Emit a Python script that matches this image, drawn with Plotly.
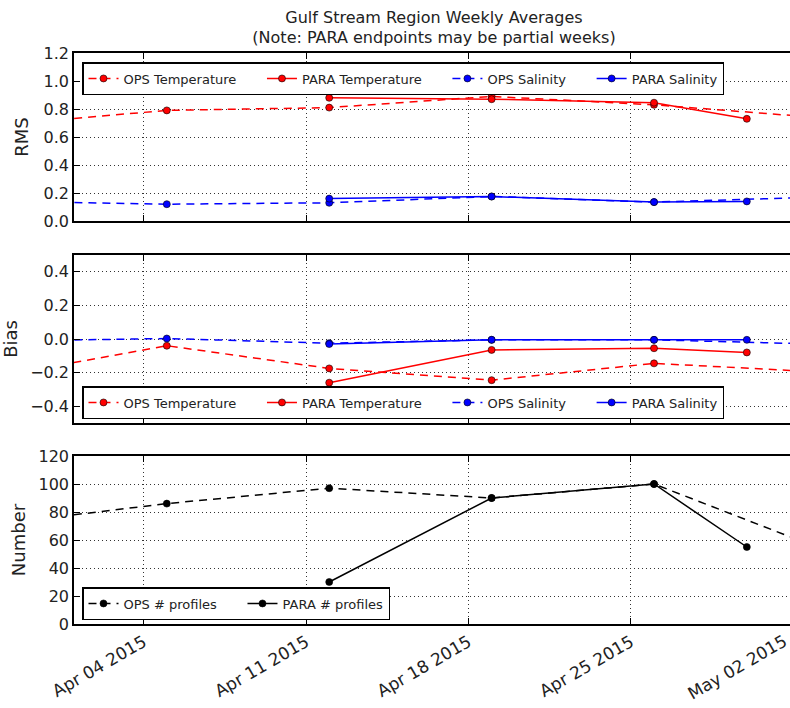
import datetime as dt
import plotly.graph_objects as go

# ---- data -------------------------------------------------------------
ops_dates = ["2015-03-29", "2015-04-05", "2015-04-12", "2015-04-19", "2015-04-26", "2015-05-03"]
para_dates = ["2015-04-12", "2015-04-19", "2015-04-26", "2015-04-30"]

rms_temp_ops = [0.69, 0.79, 0.81, 0.89, 0.83, 0.74]
rms_temp_para = [0.88, 0.87, 0.845, 0.73]
rms_sal_ops = [0.14, 0.12, 0.13, 0.175, 0.135, 0.17]
rms_sal_para = [0.16, 0.175, 0.135, 0.14]

bias_temp_ops = [-0.215, -0.04, -0.175, -0.245, -0.145, -0.195]
bias_temp_para = [-0.26, -0.065, -0.055, -0.08]
bias_sal_ops = [-0.012, 0.003, -0.025, -0.005, -0.005, -0.03]
bias_sal_para = [-0.03, -0.005, -0.005, -0.005]

num_ops = [72, 86, 97, 90, 100, 55]
num_para = [30, 90, 100, 55]

tick_dates = ["2015-04-04", "2015-04-11", "2015-04-18", "2015-04-25", "2015-05-02"]
tick_labels = ["Apr 04 2015", "Apr 11 2015", "Apr 18 2015", "Apr 25 2015", "May 02 2015"]

x_start = "2015-04-01 00:00"
x_end = "2015-05-01 20:40"

title_text = "Gulf Stream Region Weekly Averages<br>(Note: PARA endpoints may be partial weeks)"

# ---- styling ----------------------------------------------------------
FONT = "DejaVu Sans"
TXT = "#222222"
DASH = "8px,6px"
W, H = 790, 708
M_L, M_R, M_T, M_B = 74, 0, 53, 84
COL_GAP = "\u00a0" * 5   # extra column spacing after each legend entry but the last


def legend_names(names):
    return [n + COL_GAP if i < len(names) - 1 else n for i, n in enumerate(names)]


fig = go.Figure()

panels = [
    ("x", "y", "legend", [
        (ops_dates, rms_temp_ops, "OPS Temperature", "red", DASH),
        (para_dates, rms_temp_para, "PARA Temperature", "red", "solid"),
        (ops_dates, rms_sal_ops, "OPS Salinity", "blue", DASH),
        (para_dates, rms_sal_para, "PARA Salinity", "blue", "solid"),
    ]),
    ("x2", "y2", "legend2", [
        (ops_dates, bias_temp_ops, "OPS Temperature", "red", DASH),
        (para_dates, bias_temp_para, "PARA Temperature", "red", "solid"),
        (ops_dates, bias_sal_ops, "OPS Salinity", "blue", DASH),
        (para_dates, bias_sal_para, "PARA Salinity", "blue", "solid"),
    ]),
    ("x3", "y3", "legend3", [
        (ops_dates, num_ops, "OPS # profiles", "black", DASH),
        (para_dates, num_para, "PARA # profiles", "black", "solid"),
    ]),
]

for xa, ya, leg, lines in panels:
    names = legend_names([ln[2] for ln in lines])
    for (x, y, _, color, dash), name in zip(lines, names):
        fig.add_trace(go.Scatter(
            x=x, y=y, name=name, mode="lines+markers",
            line=dict(color=color, width=1.5, dash=dash),
            marker=dict(color=color, size=7, line=dict(color="black", width=0.6)),
            legend=leg, xaxis=xa, yaxis=ya,
        ))

plot_h = H - M_T - M_B
# panel extents in pixels from the top of the page
panel_px = [(53, 221), (255, 423), (456, 624)]
domains = [[(H - M_B - b) / plot_h, (H - M_B - t) / plot_h] for t, b in panel_px]

axis_common = dict(
    showline=True, linecolor="black", linewidth=1.5,
    ticks="inside", ticklen=6, tickwidth=1, tickcolor="black",
    showgrid=True, gridcolor="#333333", gridwidth=1, griddash="1px,3px",
    zeroline=False,
    tickfont=dict(family=FONT, size=16, color=TXT),
)

x_common = dict(axis_common, type="date", range=[x_start, x_end],
                tickvals=tick_dates, ticktext=tick_labels, mirror="ticks")
x_common["tickfont"] = dict(family=FONT, size=17, color=TXT)

ytitle_font = dict(family=FONT, size=18, color=TXT)

fig.update_layout(
    xaxis=dict(x_common, anchor="y", showticklabels=False),
    xaxis2=dict(x_common, anchor="y2", matches="x", showticklabels=False),
    xaxis3=dict(x_common, anchor="y3", matches="x", tickangle=-30),
    yaxis=dict(axis_common, domain=domains[0], range=[0, 1.2], dtick=0.2, tickformat=".1f",
               title=dict(text="RMS", font=ytitle_font, standoff=10)),
    yaxis2=dict(axis_common, domain=domains[1], range=[-0.5, 0.5], tickvals=[-0.4, -0.2, 0, 0.2, 0.4],
                tickformat=".1f",
                title=dict(text="Bias", font=ytitle_font, standoff=10)),
    yaxis3=dict(axis_common, domain=domains[2], range=[0, 120], dtick=20,
                title=dict(text="Number", font=ytitle_font, standoff=8)),
)

legend_common = dict(
    orientation="h", xanchor="left", yanchor="top",
    bgcolor="white", bordercolor="black", borderwidth=1.5,
    font=dict(family=FONT, size=13, color=TXT),
    itemwidth=30,
)
# legend boxes: (left px, top px)
fig.update_layout(
    legend=dict(legend_common, x=(82 - M_L) / (W - M_L - M_R), y=(H - M_B - 62) / plot_h),
    legend2=dict(legend_common, x=(82 - M_L) / (W - M_L - M_R), y=(H - M_B - 386) / plot_h),
    legend3=dict(legend_common, x=(82 - M_L) / (W - M_L - M_R), y=(H - M_B - 587) / plot_h),
)

# last tick label sits just past the right edge of the visible axis
t0 = dt.datetime.fromisoformat(x_start)
t1 = dt.datetime.fromisoformat(x_end)
for d, lab in zip(tick_dates, tick_labels):
    td = dt.datetime.fromisoformat(d)
    if td > t1:
        fig.add_annotation(
            x=(td - t0) / (t1 - t0), xref="paper", y=0, yref="paper",
            text=lab, showarrow=False, textangle=-30,
            xanchor="right", yanchor="top", yshift=-4,
            font=dict(family=FONT, size=17, color=TXT),
        )

fig.update_layout(
    width=W, height=H,
    margin=dict(l=M_L, r=M_R, t=M_T, b=M_B, autoexpand=False),
    paper_bgcolor="white", plot_bgcolor="white",
    title=dict(text=title_text, x=(M_L + 360) / W, xanchor="center", y=0.968, yanchor="top",
               font=dict(family=FONT, size=16, color=TXT)),
    font=dict(family=FONT, color=TXT),
)

fig.write_html("out.html")
